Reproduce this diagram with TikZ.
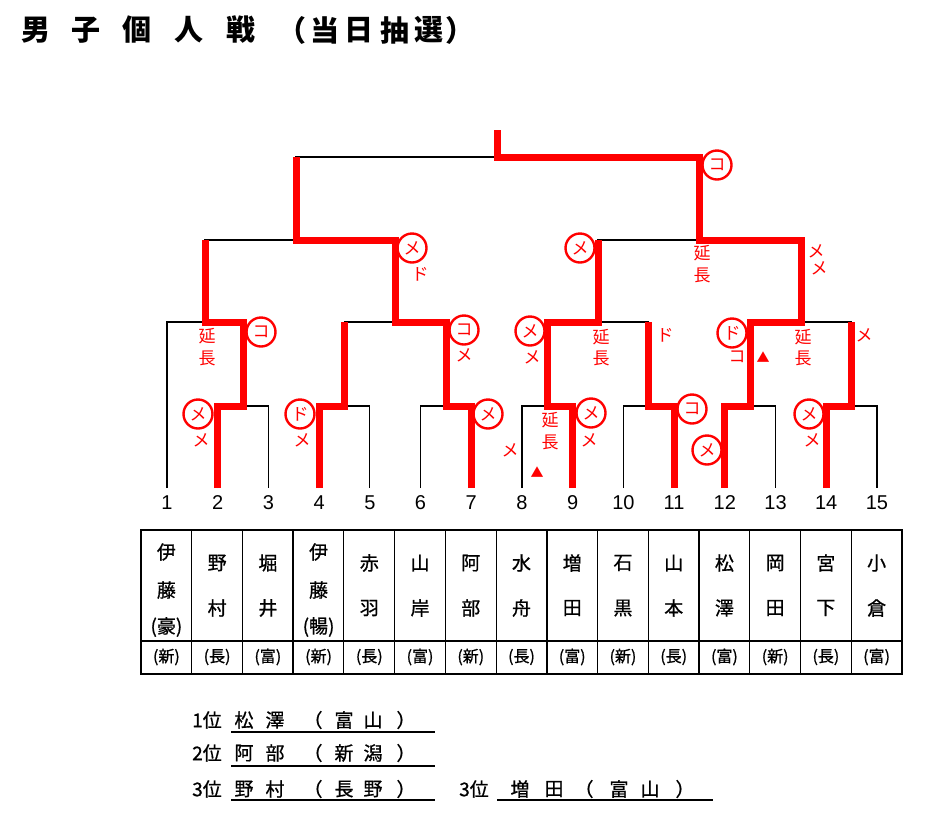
\documentclass[tikz,border=0pt]{standalone}
\usepackage{fontspec}
\setmainfont{Liberation Sans}
\newfontfamily\jp{Noto Sans CJK JP}
\newfontfamily\jpm[FakeBold=0.8]{Noto Sans CJK JP}
\begin{document}
\begin{tikzpicture}[x=1pt,y=-1pt,
  br/.style={line width=1.3pt, black},
  win/.style={line width=7pt, red, line join=miter},
  ann/.style={text=red, font=\jp\fontsize{17}{17}\selectfont, inner sep=0pt},
  circ/.style={ann, circle, draw=red, line width=2.4pt, minimum size=29pt},
  tri/.style={text=red, font=\jp\fontsize{13}{13}\selectfont, inner sep=0pt},
  num/.style={font=\fontsize{20}{20}\selectfont, inner sep=0pt},
  cell/.style={font=\jpm\fontsize{19}{19}\selectfont, inner sep=0pt},
  pref/.style={font=\jpm\fontsize{16}{16}\selectfont, inner sep=0pt},
  rank/.style={font=\jpm\fontsize{19}{19}\selectfont, inner sep=0pt},
  ttl/.style={font=\jp\bfseries\fontsize{29}{29}\selectfont, inner sep=0pt},
  uline/.style={line width=2pt, black},
  tbl/.style={line width=1.1pt, black},
  tblthick/.style={line width=2pt, black}
]
\useasboundingbox[fill=white] (0,0) rectangle (928,815);

% title
\foreach \c/\x [count=\k] in {男/36,子/86,個/137,人/189,戦/241,（/292,当/325,日/359,抽/395,選/429,）/460}
  \node[ttl] (t\k) at (\x,30) {\c};

% coordinates
\foreach \i in {1,...,15} \coordinate (b\i) at ({167+(\i-1)*50.71},488);
\coordinate (mA) at (243.1,406);
\coordinate (mB) at (344.5,406);
\coordinate (mC) at (446,406);
\coordinate (mD) at (547.3,406);
\coordinate (mE) at (648.8,406);
\coordinate (mF) at (750.2,406);
\coordinate (mG) at (851.6,406);
\coordinate (mH) at (205,322);
\coordinate (mI) at (395.2,322);
\coordinate (mJ) at (598,322);
\coordinate (mK) at (801,322);
\coordinate (mM) at (296,240);
\coordinate (mN) at (699.5,240);
\coordinate (mZ) at (497.5,157);
\coordinate (top) at (497.5,130);

% black bracket
\draw[br] (b2) |- (mA) -| (b3);
\draw[br] (b4) |- (mB) -| (b5);
\draw[br] (b6) |- (mC) -| (b7);
\draw[br] (b8) |- (mD) -| (b9);
\draw[br] (b10) |- (mE) -| (b11);
\draw[br] (b12) |- (mF) -| (b13);
\draw[br] (b14) |- (mG) -| (b15);
\draw[br] (b1) |- (mH) -| (mA);
\draw[br] (mB) |- (mI) -| (mC);
\draw[br] (mD) |- (mJ) -| (mE);
\draw[br] (mF) |- (mK) -| (mG);
\draw[br] (mH) |- (mM) -| (mI);
\draw[br] (mJ) |- (mN) -| (mK);
\draw[br] (mM) |- (mZ) -| (mN);

% red winner paths
\draw[win] (b12) |- (mF) |- (mK) |- (mN) |- (mZ) -- (top);
\draw[win] (b7) |- (mC) |- (mI) |- (mM) -- (mM|-mZ);
\draw[win] (b2) |- (mA) |- (mH) -- (mH|-mM);
\draw[win] (b9) |- (mD) |- (mJ) -- (mJ|-mN);
\draw[win] (b4) |- (mB) -- (mB|-mI);
\draw[win] (b11) |- (mE) -- (mE|-mJ);
\draw[win] (b14) |- (mG) -- (mG|-mK);

% numbers
\foreach \i in {1,...,15} \node[num] (n\i) at ({167+(\i-1)*50.71},503) {\i};

% circled annotations
\foreach \x/\y/\c [count=\k] in {717/165/コ,412/248/メ,580/248/メ,261/332/コ,198/414/メ,300/414/ド,464/330/コ,488/414/メ,530/331/メ,732/333/ド,809/414/メ,591/413/メ,692/409/コ,707/450/メ}
  \node[circ] (c\k) at (\x,\y) {\c};
% plain annotations
\foreach \x/\y/\c [count=\k] in {420/274/ド,702/253/延,702/275/長,816/251/メ,819/268/メ,207/336/延,207/358/長,201/440/メ,302/440/メ,464/355/メ,510/450/メ,532/357/メ,601/337/延,601/358/長,665/335/ド,737/357/コ,803/337/延,803/358/長,864/335/メ,812/440/メ,589/440/メ,550/420/延,550/442/長}
  \node[ann] (a\k) at (\x,\y) {\c};
\node[tri] (tr1) at (763,357) {▲};
\node[tri] (tr2) at (537,472) {▲};

% table
\draw[tblthick] (141,530) rectangle (902,674);
\draw[tbl] (141,641) -- (902,641);
\foreach \k in {1,...,14} \draw[tbl] ({141+\k*50.73},530) -- ({141+\k*50.73},674);
\foreach \k in {3,8,11} \draw[tblthick] ({141+\k*50.73},530) -- ({141+\k*50.73},674);

\foreach \i/\a/\b in {2/野/村,3/堀/井,5/赤/羽,6/山/岸,7/阿/部,8/水/舟,9/増/田,10/石/黒,11/山/本,12/松/澤,13/岡/田,14/宮/下,15/小/倉}{
  \node[cell] (na\i) at ({166.4+(\i-1)*50.73},563) {\a};
  \node[cell] (nb\i) at ({166.4+(\i-1)*50.73},608) {\b};
}
\foreach \i/\z in {1/豪,4/暢}{
  \node[cell] (na\i) at ({166.4+(\i-1)*50.73},552) {伊};
  \node[cell] (nb\i) at ({166.4+(\i-1)*50.73},590) {藤};
  \node[cell] (nc\i) at ({166.4+(\i-1)*50.73},627) {(\z)};
}
\foreach \p [count=\i] in {新,長,富,新,長,富,新,長,富,新,長,富,新,長,富}
  \node[pref] (p\i) at ({166.4+(\i-1)*50.73},657) {(\p)};

% ranking
\node[rank] (r1) at (207,720) {1位};
\node[rank] (r2) at (207,753) {2位};
\node[rank] (r3) at (207,789) {3位};
\node[rank] (r4) at (474,789) {3位};
\foreach \c/\x [count=\k] in {松/244,澤/275,（/313,富/344,山/373,）/406}
  \node[rank] (ra\k) at (\x,720) {\c};
\foreach \c/\x [count=\k] in {阿/244,部/275,（/313,新/344,潟/373,）/406}
  \node[rank] (rb\k) at (\x,753) {\c};
\foreach \c/\x [count=\k] in {野/244,村/275,（/313,長/344,野/373,）/406}
  \node[rank] (rc\k) at (\x,789) {\c};
\foreach \c/\x [count=\k] in {増/520,田/554,（/584,富/619,山/650,）/685}
  \node[rank] (rd\k) at (\x,789) {\c};
\draw[uline] (231,732) -- (435,732);
\draw[uline] (231,766) -- (435,766);
\draw[uline] (231,800) -- (435,800);
\draw[uline] (497,800) -- (713,800);
\end{tikzpicture}
\end{document}
